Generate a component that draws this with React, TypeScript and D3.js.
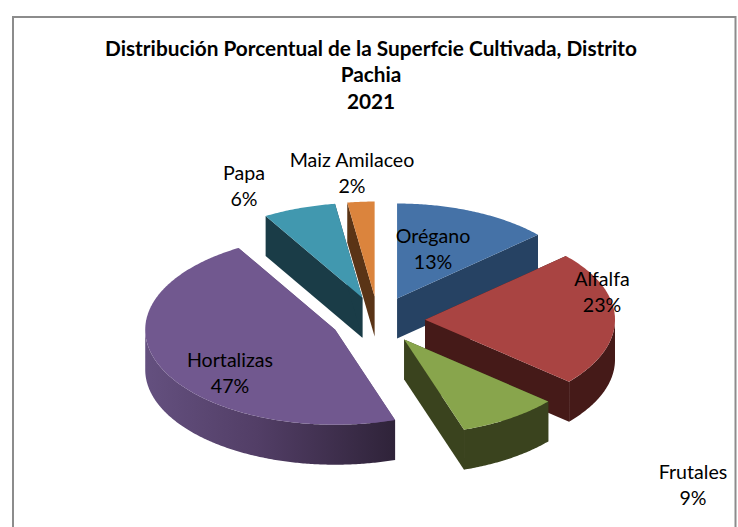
import * as d3 from "d3";
import React, { useRef, useEffect } from "react";

const categories = ["Orégano", "Alfalfa", "Frutales", "Hortalizas", "Papa", "Maiz Amilaceo"];
// shares, the labels show them rounded
const values = [13.3, 23, 8.6, 46.6, 6.2, 2.3];
const titleLines = ["Distribución Porcentual de la Superfcie Cultivada, Distrito", "Pachia", "2021"];

const topColors = ["#4572a7", "#a94442", "#88a54c", "#71588f", "#4198af", "#db843d"];
const wallColors = ["#264263", "#451a18", "#3a431e", "#5c4675", "#1a3c47", "#5a3416"];

// label centre and first baseline, placed by hand like the original
const labelPos = [
  [433, 243],
  [602, 286],
  [693, 479],
  [230, 367],
  [244, 180],
  [352, 167],
];
const titleY = [56, 82, 109];
// back to front
const drawOrder = [0, 4, 5, 1, 3, 2];

const cx = 378;
const cy = 320;
const radius = 190;
const tilt = 0.5;
const explode = 47;
const depth = 40;

function App() {
  const ref = useRef<any>(null);

  useEffect(() => {
    const svg = d3.select(ref.current);
    svg.selectAll("*").remove();

    const defs = svg.append("defs");
    const grad = defs.append("linearGradient").attr("id", "hortWall");
    grad.append("stop").attr("offset", "0%").attr("stop-color", "#64507f");
    grad.append("stop").attr("offset", "45%").attr("stop-color", "#523e66");
    grad.append("stop").attr("offset", "100%").attr("stop-color", "#2f2339");

    // frame
    svg
      .append("path")
      .attr("d", "M13,527V17H735.5V527")
      .attr("fill", "none")
      .attr("stroke", "#8c8c8c")
      .attr("stroke-width", 2);

    svg
      .selectAll("text.title")
      .data(titleLines)
      .enter()
      .append("text")
      .attr("class", "title")
      .attr("x", 371)
      .attr("y", (d: string, i: number) => titleY[i])
      .attr("text-anchor", "middle")
      .attr("font-family", "Lato")
      .attr("font-weight", 700)
      .attr("font-size", 20.8)
      .attr("fill", "#000")
      .text((d: string) => d);

    const pie = d3
      .pie<number>()
      .sort(null)
      .value((d: number) => d);
    const arcs = pie(values);

    // pie plane to screen
    const px = d3.scaleLinear().domain([-1, 1]).range([cx - radius, cx + radius]);
    const py = d3.scaleLinear().domain([-1, 1]).range([cy - radius * tilt, cy + radius * tilt]);
    const line = d3.line<[number, number]>();

    drawOrder.forEach((i) => {
      const a = arcs[i];
      const mid = (a.startAngle + a.endAngle) / 2;
      const ox = (explode / radius) * Math.sin(mid);
      const oy = -(explode / radius) * Math.cos(mid);
      const pt = (ang: number, r: number, dz = 0): [number, number] => [
        px(ox + r * Math.sin(ang)),
        py(oy - r * Math.cos(ang)) + dz,
      ];
      const g = svg.append("g");
      const wall = wallColors[i];

      // radial walls
      [a.startAngle, a.endAngle].forEach((ang) => {
        g.append("path")
          .attr("d", line([pt(ang, 0), pt(ang, 1), pt(ang, 1, depth), pt(ang, 0, depth)]) + "Z")
          .attr("fill", wall);
      });

      // outer wall, only the part facing the viewer
      const from = Math.max(a.startAngle, Math.PI / 2);
      const to = Math.min(a.endAngle, (3 * Math.PI) / 2);
      if (from < to) {
        const angs = d3.range(from, to, 0.01).concat([to]);
        const upper = angs.map((t) => pt(t, 1));
        const lower = angs.map((t) => pt(t, 1, depth)).reverse();
        g.append("path")
          .attr("d", line(upper.concat(lower)) + "Z")
          .attr("fill", categories[i] === "Hortalizas" ? "url(#hortWall)" : wall);
      }

      // top face
      const angs = d3.range(a.startAngle, a.endAngle, 0.01).concat([a.endAngle]);
      const face = [pt(0, 0) as [number, number]].concat(angs.map((t) => pt(t, 1)));
      g.append("path")
        .attr("d", line(face) + "Z")
        .attr("fill", topColors[i]);
    });

    // labels go on top of every slice
    categories.forEach((name, i) => {
      const t = svg
        .append("text")
        .attr("text-anchor", "middle")
        .attr("font-family", "Lato")
        .attr("font-size", 19.6)
        .attr("fill", "#000");
      t.append("tspan").attr("x", labelPos[i][0]).attr("y", labelPos[i][1]).text(name);
      t.append("tspan")
        .attr("x", labelPos[i][0])
        .attr("y", labelPos[i][1] + 26)
        .text(Math.round(values[i]) + "%");
    });
  }, []);

  return (
    <svg
      ref={ref}
      width={738}
      height={527}
      style={{ position: "absolute", left: 0, top: 0, background: "#fff" }}
    ></svg>
  );
}

export default App;
